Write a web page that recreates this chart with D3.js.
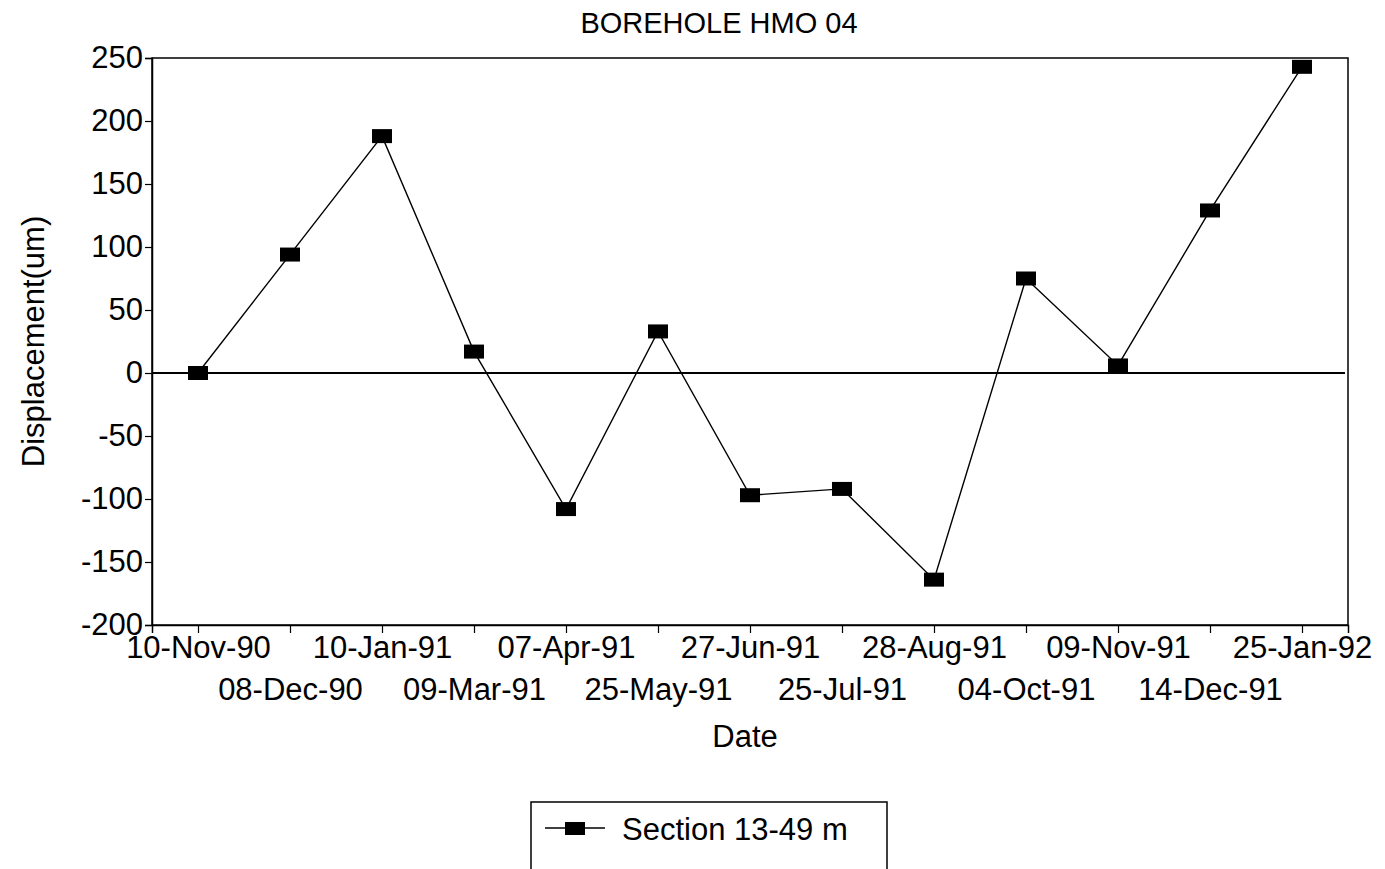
<!DOCTYPE html>
<html lang="en">
  <head>
    <meta charset="UTF-8">
    <title>Borehole HMO 04</title>
    <script src="https://cdn.jsdelivr.net/npm/d3@7"></script>
    <style>
      html, body {
        margin: 0;
        padding: 0;
        background: #fff;
      }
      svg {
        display: block;
        font-family: 'Liberation Sans', Arial, sans-serif;
      }
    </style>
  </head>
  <body>
    <svg id="chart" width="1385" height="869"></svg>
    <script>
      // values
      const dates = ['10-Nov-90', '08-Dec-90', '10-Jan-91', '09-Mar-91', '07-Apr-91', '25-May-91',
        '27-Jun-91', '25-Jul-91', '28-Aug-91', '04-Oct-91', '09-Nov-91', '14-Dec-91', '25-Jan-92'];
      const displacement = [0, 94, 188, 17, -108, 33, -97, -92, -164, 75, 6, 129, 243];
      const yTicks = [-200, -150, -100, -50, 0, 50, 100, 150, 200, 250];
      const seriesName = 'Section 13-49 m';

      const padding = { left: 152, right: 37, top: 58, bottom: 244 };
      const width = 1385 - padding.left - padding.right;
      const height = 869 - padding.top - padding.bottom;
      const fontSize = 31;

      const svg = d3.select('#chart');

      const x = d3.scalePoint()
        .domain(dates)
        .range([0, width])
        .padding(0.5);

      const y = d3.scaleLinear()
        .domain([-200, 250])
        .range([height, 0]);

      const g = svg.append('g')
        .attr('transform', `translate(${padding.left}, ${padding.top})`);

      // frame
      g.append('rect')
        .attr('width', width)
        .attr('height', height)
        .attr('fill', 'none')
        .attr('stroke', '#000')
        .attr('stroke-width', 1.5);

      // y axis (plain hyphen for negatives, like the original)
      const yAxis = d3.axisLeft(y)
        .tickValues(yTicks)
        .tickSize(7)
        .tickPadding(2)
        .tickFormat(d => String(d));

      const yG = g.append('g').call(yAxis);
      yG.select('.domain').attr('stroke-width', 1.5);
      yG.selectAll('text').attr('font-size', fontSize).attr('fill', '#000');
      yG.selectAll('line').attr('stroke-width', 1.2);

      // x axis, labels staggered in two rows
      const xAxis = d3.axisBottom(x)
        .tickSize(8)
        .tickPadding(3);

      const xG = g.append('g')
        .attr('transform', `translate(0, ${height})`)
        .call(xAxis);
      xG.select('.domain').attr('stroke-width', 1.5);
      xG.selectAll('line').attr('stroke-width', 1.2);
      xG.selectAll('text')
        .attr('font-size', fontSize)
        .attr('fill', '#000')
        .attr('dy', (d, i) => i % 2 === 0 ? '0.71em' : '2.05em');

      // zero line
      g.append('line')
        .attr('x1', 0)
        .attr('x2', width - 3)
        .attr('y1', y(0))
        .attr('y2', y(0))
        .attr('stroke', '#000')
        .attr('stroke-width', 2.2);

      // series
      const line = d3.line()
        .x((d, i) => x(dates[i]))
        .y(d => y(d));

      g.append('path')
        .datum(displacement)
        .attr('d', line)
        .attr('fill', 'none')
        .attr('stroke', '#000')
        .attr('stroke-width', 1.4);

      g.selectAll('.marker')
        .data(displacement)
        .enter()
        .append('rect')
        .attr('class', 'marker')
        .attr('x', (d, i) => x(dates[i]) - 10)
        .attr('y', d => y(d) - 7)
        .attr('width', 20)
        .attr('height', 14)
        .attr('fill', '#000');

      // titles
      svg.append('text')
        .attr('x', 719)
        .attr('y', 33)
        .attr('text-anchor', 'middle')
        .attr('font-size', 29)
        .text('BOREHOLE HMO 04');

      svg.append('text')
        .attr('x', 745)
        .attr('y', 747)
        .attr('text-anchor', 'middle')
        .attr('font-size', fontSize)
        .text('Date');

      svg.append('text')
        .attr('transform', `translate(44, ${padding.top + height / 2}) rotate(-90)`)
        .attr('text-anchor', 'middle')
        .attr('font-size', fontSize)
        .text('Displacement(um)');

      // legend
      const legend = svg.append('g').attr('transform', 'translate(531, 802)');
      legend.append('rect')
        .attr('width', 356)
        .attr('height', 80)
        .attr('fill', 'none')
        .attr('stroke', '#000')
        .attr('stroke-width', 1.5);
      legend.append('line')
        .attr('x1', 14)
        .attr('x2', 74)
        .attr('y1', 26)
        .attr('y2', 26)
        .attr('stroke', '#000')
        .attr('stroke-width', 1.6);
      legend.append('rect')
        .attr('x', 34)
        .attr('y', 20)
        .attr('width', 20)
        .attr('height', 13)
        .attr('fill', '#000');
      legend.append('text')
        .attr('x', 91)
        .attr('y', 38)
        .attr('font-size', fontSize)
        .text(seriesName);
    </script>
  </body>
</html>
